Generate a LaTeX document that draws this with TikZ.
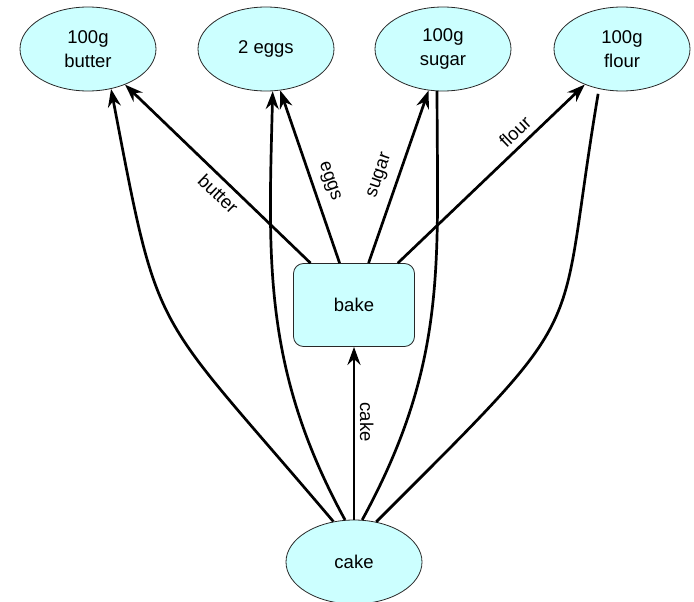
\documentclass[tikz,border=0pt]{standalone}
\usepackage{fontspec}
\setmainfont{Liberation Sans}
\usetikzlibrary{arrows.meta,shapes.geometric}
\definecolor{nodefill}{RGB}{204,255,255}
\definecolor{nodeline}{RGB}{40,40,40}

\begin{document}
\begin{tikzpicture}[x=1pt,y=-1pt,
  font=\fontsize{18.5}{24}\selectfont,
  item/.style={ellipse, draw=nodeline, fill=nodefill, line width=0.8pt,
    minimum width=136pt, minimum height=84pt, inner sep=0pt, align=center},
  task/.style={rectangle, rounded corners=10pt, draw=nodeline, fill=nodefill,
    line width=0.8pt, minimum width=121pt, minimum height=83pt, inner sep=0pt},
  flow/.style={line width=2.7pt, -{Stealth[length=18pt,width=13pt,inset=6pt]}},
  link/.style={line width=2.7pt},
  lbl/.style={font=\fontsize{18.5}{24}\selectfont}
]
\useasboundingbox (0,0) rectangle (694,602);

% ingredients
\node[item] (butter) at (88,49)  {100g\\butter};
\node[item] (eggs)   at (266,49) {2 eggs};
\node[item] (sugar)  at (443,49) {100g\\sugar};
\node[item] (flour)  at (622,49) {100g\\flour};

% process and product
\node[task] (bake) at (354,305) {bake};
\node[item] (cake) at (354,562) {cake};

% bake consumes each ingredient
\draw[flow] (bake) -- node[lbl, pos=0.445, rotate=-43.9, anchor=north, inner sep=5.8pt] {butter} (butter);
\draw[flow] (bake) -- node[lbl, pos=0.442, rotate=-71.1, anchor=south, inner sep=8.3pt] {eggs} (eggs);
\draw[flow] (bake) -- node[lbl, pos=0.472, rotate=70.9, anchor=south, inner sep=9.4pt] {sugar} (sugar);
\draw[flow] (bake) -- node[lbl, pos=0.679, rotate=43.7, anchor=south, inner sep=6pt] {flour} (flour);

% cake comes from bake
\draw[flow] (cake) -- node[lbl, pos=0.565, rotate=-90, anchor=south, inner sep=4.5pt] {cake} (bake);

% cake depends on the ingredients directly
\draw[flow] (cake.117) .. controls (150,305) and (160,345) .. (butter.-60);
\draw[flow] (cake.102) .. controls (261.7,367.5) and (268.6,256.8) .. (eggs.-81);
\draw[link] (cake.79) .. controls (448.7,361.4) and (437,261.9) .. (sugar.-98);
\draw[link, shorten >=5pt] (cake.61) .. controls (598,300) and (555,350) .. (flour.-120);
\end{tikzpicture}
\end{document}
